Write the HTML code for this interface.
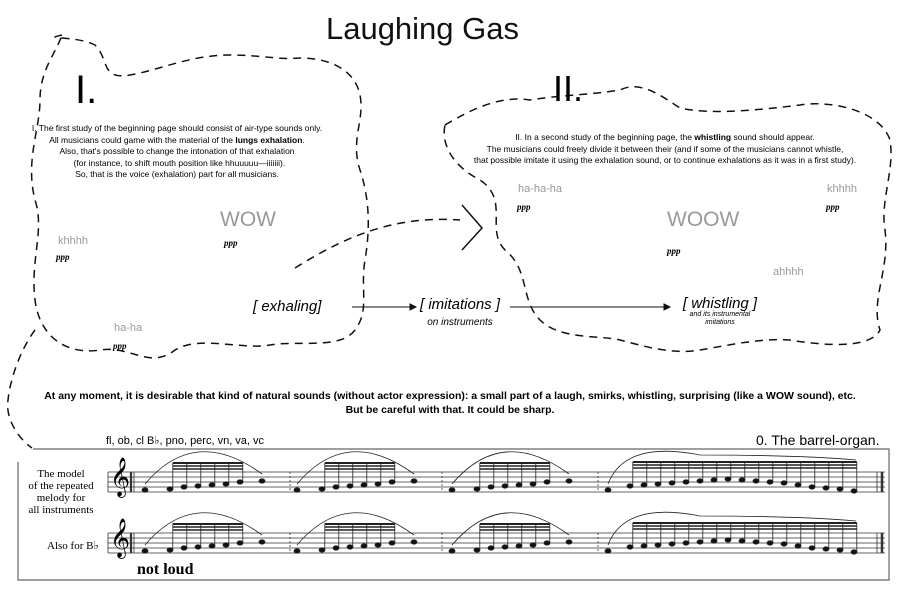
<!DOCTYPE html>
<html><head><meta charset="utf-8"><style>
html,body{margin:0;padding:0;background:#fff;}
body{width:900px;height:607px;overflow:hidden;position:relative;font-family:"Liberation Sans",sans-serif;}
.t{position:absolute;white-space:nowrap;}
.c{text-align:center;}
.g{color:#999;}
.pp{font-family:"Liberation Serif",serif;font-style:italic;font-weight:bold;font-size:9px;}
.ser{font-family:"Liberation Serif",serif;}
</style></head><body>
<svg width="900" height="607" style="position:absolute;left:0;top:0">
<defs>
<g id="m1" stroke="#222" stroke-width="0.8" fill="#111">
<ellipse cx="145" cy="490" rx="3" ry="2.2"/>
<ellipse cx="170" cy="489" rx="3" ry="2.2"/><line x1="172.8" y1="489" x2="172.8" y2="463"/>
<ellipse cx="184" cy="487" rx="3" ry="2.2"/><line x1="186.8" y1="487" x2="186.8" y2="463"/>
<ellipse cx="198" cy="486" rx="3" ry="2.2"/><line x1="200.8" y1="486" x2="200.8" y2="463"/>
<ellipse cx="212" cy="485" rx="3" ry="2.2"/><line x1="214.8" y1="485" x2="214.8" y2="463"/>
<ellipse cx="226" cy="484" rx="3" ry="2.2"/><line x1="228.8" y1="484" x2="228.8" y2="463"/>
<ellipse cx="240" cy="482" rx="3" ry="2.2"/><line x1="242.8" y1="482" x2="242.8" y2="463"/>
<ellipse cx="262" cy="481" rx="3" ry="2.2"/>
<line x1="172.8" y1="463" x2="242.8" y2="463" stroke-width="2"/>
<line x1="172.8" y1="466" x2="242.8" y2="466" stroke-width="1.5"/>
<line x1="172.8" y1="469" x2="242.8" y2="469" stroke-width="1.5"/>
<path d="M145,484 Q195,425 262,474" fill="none"/>
</g>
<g id="m4" stroke="#222" stroke-width="0.8" fill="#111">
<ellipse cx="608" cy="490" rx="3" ry="2.2"/>
<path d="M608,484 Q625,440 700,455 Q800,455 856,460" fill="none"/>
<line x1="632.8" y1="462" x2="856.8" y2="462" stroke-width="2"/>
<line x1="632.8" y1="465" x2="856.8" y2="465" stroke-width="1.5"/>
<line x1="632.8" y1="468" x2="856.8" y2="468" stroke-width="1.5"/>
<ellipse cx="630" cy="486" rx="3" ry="2.2"/><line x1="632.8" y1="486" x2="632.8" y2="462"/>
<ellipse cx="644" cy="485" rx="3" ry="2.2"/><line x1="646.8" y1="485" x2="646.8" y2="462"/>
<ellipse cx="658" cy="484" rx="3" ry="2.2"/><line x1="660.8" y1="484" x2="660.8" y2="462"/>
<ellipse cx="672" cy="483" rx="3" ry="2.2"/><line x1="674.8" y1="483" x2="674.8" y2="462"/>
<ellipse cx="686" cy="482" rx="3" ry="2.2"/><line x1="688.8" y1="482" x2="688.8" y2="462"/>
<ellipse cx="700" cy="481" rx="3" ry="2.2"/><line x1="702.8" y1="481" x2="702.8" y2="462"/>
<ellipse cx="714" cy="480" rx="3" ry="2.2"/><line x1="716.8" y1="480" x2="716.8" y2="462"/>
<ellipse cx="728" cy="479" rx="3" ry="2.2"/><line x1="730.8" y1="479" x2="730.8" y2="462"/>
<ellipse cx="742" cy="480" rx="3" ry="2.2"/><line x1="744.8" y1="480" x2="744.8" y2="462"/>
<ellipse cx="756" cy="481" rx="3" ry="2.2"/><line x1="758.8" y1="481" x2="758.8" y2="462"/>
<ellipse cx="770" cy="482" rx="3" ry="2.2"/><line x1="772.8" y1="482" x2="772.8" y2="462"/>
<ellipse cx="784" cy="483" rx="3" ry="2.2"/><line x1="786.8" y1="483" x2="786.8" y2="462"/>
<ellipse cx="798" cy="485" rx="3" ry="2.2"/><line x1="800.8" y1="485" x2="800.8" y2="462"/>
<ellipse cx="812" cy="487" rx="3" ry="2.2"/><line x1="814.8" y1="487" x2="814.8" y2="462"/>
<ellipse cx="826" cy="488" rx="3" ry="2.2"/><line x1="828.8" y1="488" x2="828.8" y2="462"/>
<ellipse cx="840" cy="489" rx="3" ry="2.2"/><line x1="842.8" y1="489" x2="842.8" y2="462"/>
<ellipse cx="854" cy="491" rx="3" ry="2.2"/><line x1="856.8" y1="491" x2="856.8" y2="462"/>
</g>
<g id="st" stroke="#333" stroke-width="0.8">
<line x1="108" y1="472" x2="885" y2="472"/><line x1="108" y1="477" x2="885" y2="477"/>
<line x1="108" y1="482" x2="885" y2="482"/><line x1="108" y1="487" x2="885" y2="487"/>
<line x1="108" y1="492" x2="885" y2="492"/>
<line x1="108" y1="472" x2="108" y2="492"/>
<line x1="131" y1="472" x2="131" y2="492" stroke-width="2.2"/><line x1="134" y1="472" x2="134" y2="492"/>
<line x1="290" y1="472" x2="290" y2="492" stroke-dasharray="2,2"/>
<line x1="442" y1="472" x2="442" y2="492" stroke-dasharray="2,2"/>
<line x1="598" y1="472" x2="598" y2="492" stroke-dasharray="2,2"/>
<line x1="877" y1="472" x2="877" y2="492"/><line x1="882" y1="472" x2="882" y2="492" stroke-width="2.5"/>
<use href="#m1"/><use href="#m1" transform="translate(152,0)"/><use href="#m1" transform="translate(307,0)"/><use href="#m4"/>
</g>
</defs>
<use href="#st"/>
<use href="#st" transform="translate(0,61)"/>
<g fill="none" stroke="#111" stroke-width="1.5" stroke-dasharray="8,6">
<path d="M62,35 C40,40 75,35 95,45 C110,60 100,80 130,75 C160,70 190,55 230,55 C260,55 280,60 300,58 C330,58 355,70 360,95 C365,120 350,140 360,170 C370,200 370,230 365,260 C360,290 370,310 355,330 C340,350 300,340 270,345 C240,350 200,335 175,350 C150,370 130,345 100,350 C70,355 40,340 35,300 C30,260 45,230 35,200 C25,160 40,130 40,100 C40,70 55,55 62,35"/>
<path d="M35,330 C20,350 10,380 8,400 C5,420 20,440 32,448"/>
<path d="M295,268 C340,240 390,215 460,220"/>
<path d="M445,125 C470,110 500,95 530,100 C560,95 590,95 620,90 C640,80 660,95 680,108 C710,115 760,110 800,105 C830,100 880,110 890,140 C895,170 880,200 885,230 C890,270 870,300 880,330 C870,350 820,345 790,340 C760,338 730,345 700,350 C670,355 640,345 620,340 C600,335 560,340 540,320 C520,300 530,270 505,250 C485,230 510,200 480,180 C460,170 440,150 445,125"/>
</g>
<path d="M462,205 L482,228 L462,250" fill="none" stroke="#111" stroke-width="1.5"/>
<g stroke="#111" stroke-width="1" fill="#111">
<line x1="352" y1="307" x2="410" y2="307"/><path d="M410,304 L416,307 L410,310 Z"/>
<line x1="510" y1="307" x2="664" y2="307"/><path d="M664,304 L670,307 L664,310 Z"/>
</g>
<path d="M33,449 L889,449 L889,580 L18,580 L18,462" stroke="#666" fill="none" stroke-width="1.2"/>
</svg>
<div class="t" style="left:0;width:845px;top:11px;font-size:31px;color:#111;text-align:center">Laughing Gas</div>
<div class="t" style="left:75px;top:68px;font-size:40px;">I.</div>
<div class="t" style="left:553px;top:68px;font-size:36px;">II.</div>
<div class="t c" style="left:17px;width:320px;top:123px;font-size:8.5px;line-height:11.5px;">I. The first study of the beginning page should consist of air-type sounds only.<br>All musicians could game with the material of the <b>lungs exhalation</b>.<br>Also, that's possible to change the intonation of that exhalation<br>&nbsp;&nbsp;(for instance, to shift mouth position like hhuuuuu—iiiiiii).<br>So, that is the voice (exhalation) part for all musicians.</div>
<div class="t c" style="left:430px;width:470px;top:132px;font-size:8.5px;line-height:11.5px;">II. In a second study of the beginning page, the <b>whistling</b> sound should appear.<br>The musicians could freely divide it between their (and if some of the musicians cannot whistle,<br>that possible imitate it using the exhalation sound, or to continue exhalations as it was in a first study).</div>
<div class="t g" style="left:220px;top:208px;font-size:21px;">WOW</div><div class="t pp" style="left:224px;top:238px;">ppp</div>
<div class="t g" style="left:58px;top:235px;font-size:11px;">khhhh</div><div class="t pp" style="left:56px;top:252px;">ppp</div>
<div class="t g" style="left:114px;top:322px;font-size:11px;">ha-ha</div><div class="t pp" style="left:113px;top:341px;">ppp</div>
<div class="t g" style="left:518px;top:183px;font-size:11px;">ha-ha-ha</div><div class="t pp" style="left:517px;top:202px;">ppp</div>
<div class="t g" style="left:667px;top:208px;font-size:21px;">WOOW</div><div class="t pp" style="left:667px;top:246px;">ppp</div>
<div class="t g" style="left:827px;top:183px;font-size:11px;">khhhh</div><div class="t pp" style="left:826px;top:202px;">ppp</div>
<div class="t g" style="left:773px;top:266px;font-size:11px;">ahhhh</div>
<div class="t" style="left:253px;top:298px;font-size:15px;font-style:italic;">[ exhaling]</div>
<div class="t c" style="left:400px;width:120px;top:297px;font-size:15px;font-style:italic;line-height:16px;">[ imitations ]<br><span style="font-size:10px;">on instruments</span></div>
<div class="t c" style="left:660px;width:120px;top:297px;font-size:15px;font-style:italic;line-height:14px;">[ whistling ]<br><span style="font-size:7px;line-height:8px;display:inline-block;">and its instrumental<br>imitations</span></div>
<div class="t c" style="left:0;width:900px;top:389px;font-size:10.5px;font-weight:bold;line-height:14px;">At any moment, it is desirable that kind of natural sounds (without actor expression): a small part of a laugh, smirks, whistling, surprising (like a WOW sound), etc.<br>But be careful with that. It could be sharp.</div>
<div class="t" style="left:106px;top:434px;font-size:11px;">fl, ob, cl B♭, pno, perc, vn, va, vc</div>
<div class="t" style="left:756px;top:432px;font-size:14px;">0. The barrel-organ.</div>
<div class="t c ser" style="left:20px;width:82px;top:468px;font-size:11px;line-height:12px;">The model<br>of the repeated<br>melody for<br>all instruments</div>
<div class="t ser" style="left:47px;top:539px;font-size:11px;">Also for B♭</div>
<div class="t ser" style="left:110px;top:458px;font-size:34px;line-height:40px;">𝄞</div>
<div class="t ser" style="left:110px;top:519px;font-size:34px;line-height:40px;">𝄞</div>
<div class="t ser" style="left:137px;top:561px;font-size:16px;font-weight:bold;">not loud</div>
</body></html>
